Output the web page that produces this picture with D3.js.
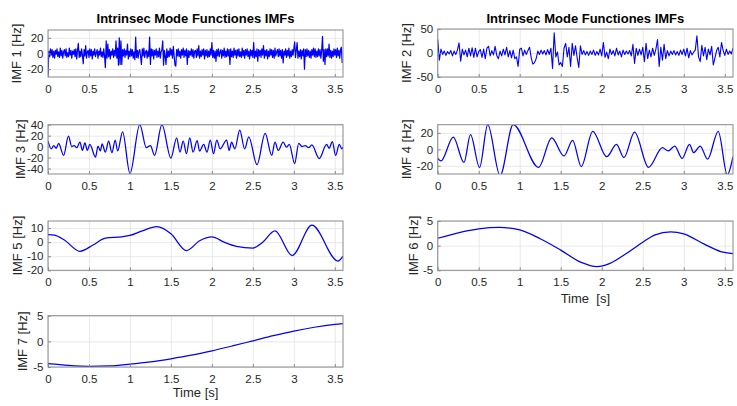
<!DOCTYPE html>
<html><head><meta charset="utf-8">
<script src="https://cdn.jsdelivr.net/npm/d3@7"></script>
<style>
html,body{margin:0;padding:0;background:#fff;}
svg{display:block;font-family:"Liberation Sans",Arial,Helvetica,sans-serif;}
</style></head>
<body>
<svg id="chart" width="737" height="406"></svg>
<script>
// ---------------- DATA ----------------
const chartTitle = "Intrinsec Mode Functiones IMFs";
const xTickValues = [0, 0.5, 1, 1.5, 2, 2.5, 3, 3.5];
const xTickLabels = ["0", "0.5", "1", "1.5", "2", "2.5", "3", "3.5"];
const timeMax = 3.6;

// IMF 1 (sampled every 0.01 s)
const imf1Step = 0.01;
const imf1Values = [
 -28, 3, -4, 6, -2, 5, -5, 3, -6, 4, -1, 6, -4, 2, -5, 7, -3, 4, -6, 2,
 5, -3, 6, -5, 1, -4, 7, -2, 4, -6, 3, -1, 5, -4, 6, -7, 4, 13, -5, 3,
 -4, 6, -2, -13, 5, -3, 10, -6, 2, 4, -5, 6, -3, 5, -7, 3, -2, 6, -4, 1,
 5, -6, 3, -2, 7, -4, 2, -5, 6, -3, -18, 16, -6, 12, -4, 5, -7, 3, -2, 6,
 -5, 4, -3, 16, -6, 7, -15, 20, -14, 16, -14, 5, -3, 6, -5, 4, -2, 12, -7, 3,
 -4, 6, -3, 5, -6, 2, -8, 21, -5, 4, -6, 3, 5, -4, -14, 6, -3, 7, -5, 2,
 4, -6, 3, -4, 21, -14, 6, -3, 5, -7, 4, -2, 6, -5, 3, -4, 7, -6, 2, 5,
 16, -15, 4, -3, -14, 6, -5, 3, -4, 7, -2, 5, -6, 9, -4, -15, -16, 5, -3, 6,
 -4, 3, -6, 5, -2, 7, -5, 4, -3, 6, -14, 4, -5, 3, -2, 6, -4, 5, -6, 3,
 4, -5, 6, -3, 10, -6, 3, -4, 5, -2, 6, -7, 4, -3, 5, -5, 3, -4, 6, -2,
 14, -5, 4, -6, 3, -10, 5, -3, 6, -4, 2, 5, -6, 4, -3, 7, -5, 3, -4, 6,
 -3, 5, -14, 6, -4, 3, -5, 7, -2, 4, -6, 5, -3, 6, -4, 2, -5, 7, -3, 4,
 -6, 5, -2, 6, -4, 3, -7, 5, -3, 4, -5, 14, -6, 3, -4, 6, -10, 5, -3, 4,
 -5, 6, -2, 10, -6, 4, -3, 5, -7, 3, -4, 6, -2, 5, -5, 4, -6, 7, -3, 2,
 5, -4, 6, -3, 4, -6, 5, -12, 3, -2, 6, -5, 4, -3, 7, -6, 3, -4, 5, -2,
 6, 15, -5, 4, 14, -6, 3, -4, 5, -7, 4, -3, 6, -20, 5, -4, 6, -3, 4, -5,
 3, -6, 5, -2, 7, -4, 6, -5, 3, -4, 6, -3, 5, -6, 4, 22, -10, 5, -14, 6,
 -4, 6, -3, 12, -5, 4, -6, 3, -4, 6, -2, 5, -5, 7, -3, 4, -6, 5, 8, -12
];

// IMF 2 (sampled every 0.02 s)
const imf2Step = 0.02;
const imf2Values = [
 28, -15, 8, -3, 4, -5, 3, -2, 5, -6, 4, -3, 6, 21, -17, 8, -4, 6, -8, 10,
 -6, 11, -9, 10, -8, 3, 7, -9, 8, -12, 10, 14, -6, 5, -4, 14, -5, -12, 4, -6,
 8, -4, 12, -8, 5, -10, 6, -12, -8, -28, 8, 10, -6, 6, -3, 5, 12, -10, -23, -20,
 -12, 4, -3, 6, -2, 5, -4, 7, -3, 10, -32, 42, -8, 2, -25, -20, -28, 10, 20, -8,
 12, -28, 20, -5, 15, -10, -30, 15, -3, 5, -4, 3, -5, 4, -3, 6, -5, 3, -4, 8,
 -6, 22, -9, 2, -12, 8, -3, 5, -6, 10, -4, 4, -8, 6, -3, 4, -2, 5, -6, 18,
 -22, 10, -5, 8, -4, 12, -18, 20, -12, 6, -8, 10, -5, 8, 28, -28, 12, -15, 18, -12,
 5, -6, 4, -3, 5, -4, 3, -5, 6, -3, 8, -6, 10, -10, 5, -4, 2, 6, 36, -8,
 -18, 16, -6, 12, -14, 8, -4, 14, -25, -10, 5, 12, -8, 22, 5, -5, 8, -3, 4, -2,
 10
];

// IMF 3
const imf3Times  = [0, 0.04, 0.07, 0.10, 0.13, 0.19, 0.25, 0.29, 0.32, 0.35, 0.39, 0.42, 0.45, 0.48, 0.51, 0.58, 0.61, 0.64, 0.66, 0.70, 0.74, 0.78, 0.82, 0.85, 0.91, 1.00, 1.12, 1.20, 1.25, 1.30, 1.39, 1.50, 1.57, 1.61, 1.65, 1.69, 1.73, 1.77, 1.82, 1.85, 1.90, 1.94, 1.98, 2.02, 2.06, 2.10, 2.18, 2.21, 2.24, 2.28, 2.34, 2.40, 2.45, 2.55, 2.65, 2.73, 2.77, 2.81, 2.87, 2.91, 2.945, 3.01, 3.06, 3.10, 3.14, 3.18, 3.22, 3.31, 3.40, 3.43, 3.47, 3.51, 3.555, 3.585, 3.6];
const imf3Values = [10, -4, 2, -3, 6, -16, 19, 0, 2, -2, 8, -7, 7, -7, 4, -19, 1, -8, 5, -10, 10, -11, 12, -8, 27, -49, 40, -2, 2, -16, 40, -21, 16, -10, 10, -13, 16, -10, 11, -8, 4, -10, 12, -13, 12, -4, 12, -7, 8, -4, 30, -4, 18, -33, 24, -16, 8, -7, 8, -1, 4, -31, 6, 0, 2, -2, 3, -22, 4, -3, 9, -16, 4, -4, -1];

// IMF 4
const imf4Times  = [0, 0.04, 0.19, 0.32, 0.40, 0.51, 0.61, 0.76, 0.92, 1.23, 1.39, 1.54, 1.645, 1.75, 1.89, 2.06, 2.18, 2.27, 2.40, 2.57, 2.74, 2.81, 2.89, 2.98, 3.07, 3.12, 3.20, 3.29, 3.42, 3.53, 3.6];
const imf4Values = [-11, -14, 15, -16, 18, -22, 30, -32, 30, -22, 14, -8, 11, -21, 22, -9, 6, -10, 21, -22, 2, -2, 4, -11, 6, -4, 4, -12, 22, -31, -9];

// IMF 5
const imf5Times  = [0, 0.08, 0.2, 0.39, 0.55, 0.7, 0.9, 1.0, 1.15, 1.33, 1.5, 1.69, 1.85, 2.0, 2.15, 2.3, 2.5, 2.62, 2.77, 2.98, 3.22, 3.54, 3.6];
const imf5Values = [5.4, 5, 1.5, -6.5, -2, 2.8, 3.8, 4.8, 8, 11, 6, -6, 1, 3.7, 0, -3, -4.2, 0, 8, -9.5, 12, -13.5, -10];

// IMF 6
const imf6Times  = [0, 0.25, 0.5, 0.75, 1.0, 1.25, 1.5, 1.75, 1.94, 2.1, 2.3, 2.5, 2.65, 2.84, 3.0, 3.25, 3.45, 3.6];
const imf6Values = [1.5, 2.6, 3.4, 3.7, 3.2, 1.4, -0.9, -3.4, -4.26, -3.6, -1.6, 0.7, 2.2, 2.8, 2.4, 0.3, -1.2, -1.6];

// IMF 7
const imf7Times  = [0, 0.25, 0.5, 0.75, 1.0, 1.25, 1.5, 1.75, 2.0, 2.25, 2.5, 2.75, 3.0, 3.25, 3.5, 3.6];
const imf7Values = [-4.35, -4.7, -4.87, -4.8, -4.45, -4.0, -3.4, -2.7, -1.85, -0.9, 0.1, 1.1, 2.0, 2.75, 3.3, 3.45];

// Y axes
const imfLabels = ["IMF 1 [Hz]", "IMF 2 [Hz]", "IMF 3 [Hz]", "IMF 4 [Hz]", "IMF 5 [Hz]", "IMF 6 [Hz]", "IMF 7 [Hz]"];
const yDomains = [[-30, 30], [-50, 50], [-50, 40], [-30, 30], [-20, 15], [-5, 5], [-5, 5]];
const yTickSets = [[-20, 0, 20], [-50, 0, 50], [-40, -20, 0, 20, 40], [-20, 0, 20], [-20, -10, 0, 10], [-5, 0, 5], [-5, 0, 5]];
const xLabelLeft = "Time [s]";
const xLabelRight = "Time  [s]";

// ---------------- LAYOUT ----------------
const svg = d3.select("#chart");
const L = {x0: 48, x1: 343};
const R = {x0: 437.7, x1: 733};
const panels = [
  {box: L, y0: 30, y1: 77, ylx: 20.5, data: imf1Values.map((v, i) => [i * imf1Step, v]), curve: d3.curveLinear, lw: 1.2},
  {box: R, y0: 29, y1: 77, ylx: 411, data: imf2Values.map((v, i) => [i * imf2Step, v]), curve: d3.curveLinear, lw: 1.1},
  {box: L, y0: 124.7, y1: 174, ylx: 24.5, data: imf3Times.map((t, i) => [t, imf3Values[i]]), curve: d3.curveMonotoneX, lw: 1.25},
  {box: R, y0: 124.7, y1: 174, ylx: 411, data: imf4Times.map((t, i) => [t, imf4Values[i]]), curve: d3.curveMonotoneX, lw: 1.25},
  {box: L, y0: 221, y1: 270.3, ylx: 21.5, data: imf5Times.map((t, i) => [t, imf5Values[i]]), curve: d3.curveMonotoneX, lw: 1.25},
  {box: R, y0: 221, y1: 270.3, ylx: 417.5, data: imf6Times.map((t, i) => [t, imf6Values[i]]), curve: d3.curveMonotoneX, lw: 1.25},
  {box: L, y0: 315.7, y1: 367, ylx: 26.5, data: imf7Times.map((t, i) => [t, imf7Values[i]]), curve: d3.curveMonotoneX, lw: 1.25}
];

const tickColor = "#262626";
const boxColor = "#8a8a8a";
const gridColor = "#e3e3e3";
const tickFont = "11.5px";

panels.forEach((p, k) => {
  const x = d3.scaleLinear().domain([0, timeMax]).range([p.box.x0, p.box.x1]);
  const y = d3.scaleLinear().domain(yDomains[k]).range([p.y1, p.y0]);
  const w = p.box.x1 - p.box.x0, h = p.y1 - p.y0;
  const g = svg.append("g");

  // grid
  const gx = g.append("g").attr("transform", `translate(0,${p.y1})`)
    .call(d3.axisBottom(x).tickValues(xTickValues).tickSize(-h).tickFormat(""));
  const gy = g.append("g").attr("transform", `translate(${p.box.x0},0)`)
    .call(d3.axisLeft(y).tickValues(yTickSets[k]).tickSize(-w).tickFormat(""));
  [gx, gy].forEach(a => { a.select(".domain").remove(); a.selectAll("line").attr("stroke", gridColor).attr("stroke-width", 0.8); });

  // clip
  const cid = "clip" + k;
  svg.append("clipPath").attr("id", cid).append("rect")
    .attr("x", p.box.x0).attr("y", p.y0).attr("width", w).attr("height", h);

  g.append("path").datum(p.data)
    .attr("clip-path", `url(#${cid})`)
    .attr("fill", "none").attr("stroke", "#0000ff").attr("stroke-width", p.lw)
    .attr("stroke-linejoin", "round")
    .attr("d", d3.line().x(d => x(d[0])).y(d => y(d[1])).curve(p.curve));

  // box
  g.append("rect").attr("x", p.box.x0).attr("y", p.y0).attr("width", w).attr("height", h)
    .attr("fill", "none").attr("stroke", boxColor).attr("stroke-width", 1);

  // axes
  const ax = g.append("g").attr("transform", `translate(0,${p.y1})`)
    .call(d3.axisBottom(x).tickValues(xTickValues).tickFormat((d, i) => xTickLabels[i])
      .tickSizeInner(-3).tickSizeOuter(0).tickPadding(8));
  const ay = g.append("g").attr("transform", `translate(${p.box.x0},0)`)
    .call(d3.axisLeft(y).tickValues(yTickSets[k]).tickFormat(d => String(d))
      .tickSizeInner(-3).tickSizeOuter(0).tickPadding(4.5));
  [ax, ay].forEach(a => {
    a.select(".domain").remove();
    a.selectAll("line").attr("stroke", boxColor);
    a.selectAll("text").attr("fill", tickColor).style("font-size", tickFont)
      .style("font-family", '"Liberation Sans", Arial, sans-serif');
  });

  // y label
  g.append("text").attr("transform", `translate(${p.ylx},${(p.y0 + p.y1) / 2}) rotate(-90)`)
    .attr("text-anchor", "middle").attr("fill", tickColor).style("font-size", "13px")
    .text(imfLabels[k]);

  if (k < 2) {
    g.append("text").attr("x", (p.box.x0 + p.box.x1) / 2).attr("y", 22.7)
      .attr("text-anchor", "middle").attr("fill", "#000").style("font-size", "13px")
      .style("font-weight", "bold").text(chartTitle);
  }
  if (k === 5) {
    g.append("text").attr("x", (p.box.x0 + p.box.x1) / 2).attr("y", 303)
      .attr("text-anchor", "middle").attr("fill", tickColor).style("font-size", "13px")
      .style("white-space", "pre").attr("xml:space", "preserve").text(xLabelRight);
  }
  if (k === 6) {
    g.append("text").attr("x", (p.box.x0 + p.box.x1) / 2).attr("y", 397)
      .attr("text-anchor", "middle").attr("fill", tickColor).style("font-size", "13px")
      .text(xLabelLeft);
  }
});
</script>
</body></html>
